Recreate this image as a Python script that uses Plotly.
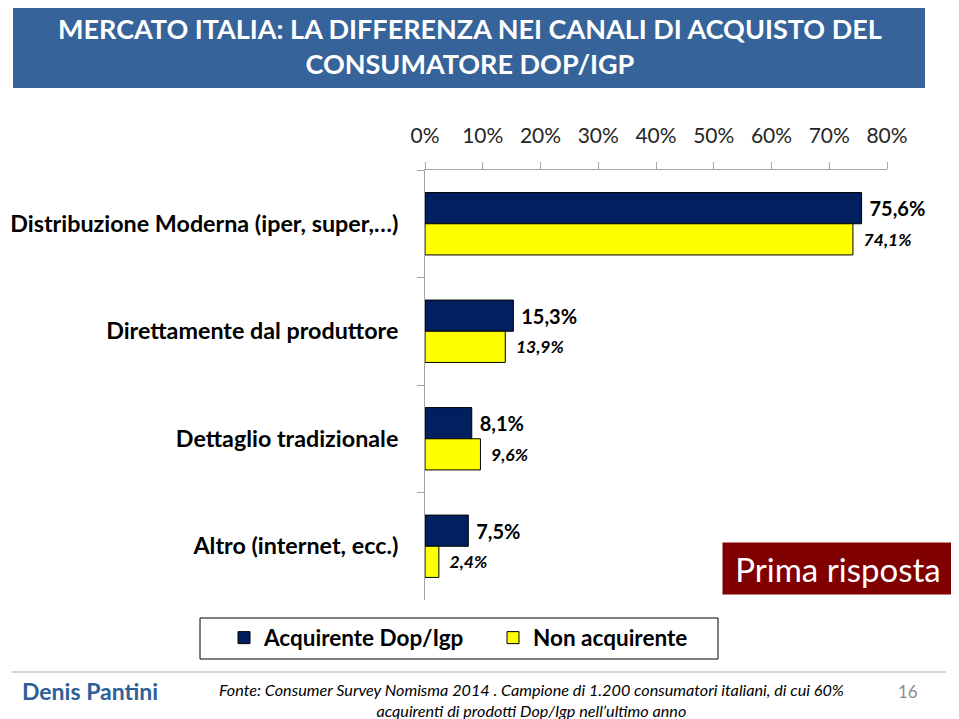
import plotly.graph_objects as go

# The page has an 8 px body margin, so the figure is drawn 8 px in from the window corner.
OFF = 8
W, H = 959 - OFF, 719 - OFF

categories = ["Distribuzione Moderna (iper, super,…)", "Direttamente dal produttore",
              "Dettaglio tradizionale", "Altro (internet, ecc.)"]
series_names = ["Acquirente Dop/Igp", "Non acquirente"]
acquirente = [75.6, 15.3, 8.1, 7.5]
non_acquirente = [74.1, 13.9, 9.6, 2.4]
tick_vals = [0, 10, 20, 30, 40, 50, 60, 70, 80]
tick_text = [f"{v}%" for v in tick_vals]

title_lines = ["MERCATO ITALIA: LA DIFFERENZA NEI CANALI DI ACQUISTO DEL", "CONSUMATORE DOP/IGP"]
badge_text = "Prima risposta"
author = "Denis Pantini"
source_lines = ["Fonte: Consumer Survey Nomisma 2014 . Campione di 1.200 consumatori italiani, di cui 60%",
                "acquirenti di prodotti Dop/Igp nell’ultimo anno"]
page_no = "16"

FONT = "Lato"
NAVY = "#002060"
YELLOW = "#FFFF00"


def px(x):
    return (x - OFF) / W


def py(y):
    return 1 - (y - OFF) / H


fig = go.Figure()
fig.add_trace(go.Bar(
    y=categories, x=acquirente, name=series_names[0], orientation="h",
    marker=dict(color=NAVY, line=dict(color="#000000", width=1)),
    texttemplate="\u00a0%{x:.1f}%", textposition="outside", cliponaxis=False,
    constraintext="none",
    textfont=dict(family=FONT, size=20, color="#000000", weight="bold"),
))
fig.add_trace(go.Bar(
    y=categories, x=non_acquirente, name=series_names[1], orientation="h",
    marker=dict(color=YELLOW, line=dict(color="#000000", width=1)),
    texttemplate="\u00a0\u00a0%{x:.1f}%", textposition="outside", cliponaxis=False,
    constraintext="none",
    textfont=dict(family=FONT, size=17.5, color="#000000", weight="bold", style="italic"),
))

fig.update_layout(
    width=W, height=H,
    margin=dict(l=0, r=0, t=0, b=0, autoexpand=False),
    paper_bgcolor="white", plot_bgcolor="white",
    separators=",.",
    barmode="group", bargap=0.42, bargroupgap=0,
    font=dict(family=FONT, color="#000000"),
    xaxis=dict(
        domain=[px(425), px(887)], range=[0, 80], side="top", automargin=False,
        tickvals=tick_vals, ticktext=tick_text,
        showgrid=False, zeroline=False,
        showline=True, linecolor="#A6A6A6", linewidth=1,
        ticks="outside", ticklen=7, tickcolor="#A6A6A6",
        tickfont=dict(family=FONT, size=21, color="#262626"),
        ticklabelstandoff=11,
    ),
    yaxis=dict(
        domain=[py(600), py(170)], autorange="reversed", automargin=False,
        showgrid=False, zeroline=False,
        showline=True, linecolor="#A6A6A6", linewidth=1,
        ticks="outside", ticklen=7, tickcolor="#A6A6A6", tickson="boundaries",
        tickfont=dict(family=FONT, size=23.3, color="#000000", weight="bold"),
        ticklabelstandoff=21,
    ),
    legend=dict(
        orientation="h", x=px(224), xanchor="left", y=py(638), yanchor="middle",
        borderwidth=0, bgcolor="rgba(0,0,0,0)",
        font=dict(family=FONT, size=22.5, color="#000000", weight="bold"),
        traceorder="normal", itemwidth=30, entrywidth=224,
    ),
    showlegend=True,
)

shapes = [
    dict(type="rect", xref="paper", yref="paper", x0=px(13), x1=px(925), y0=py(88), y1=py(5),
         fillcolor="#366399", line=dict(width=0), layer="below"),
    dict(type="line", xref="paper", yref="paper", x0=px(12), x1=px(946), y0=py(672), y1=py(672),
         line=dict(color="#C8C8C8", width=1.5)),
    dict(type="rect", xref="paper", yref="paper", x0=px(200), x1=px(718), y0=py(659), y1=py(618),
         fillcolor="rgba(0,0,0,0)", line=dict(color="#000000", width=1), layer="below"),
]
fig.update_layout(shapes=shapes)

anns = [
    dict(text="<br>".join(title_lines), x=px(470), y=py(46), xref="paper", yref="paper",
         showarrow=False, xanchor="center", yanchor="middle",
         font=dict(family=FONT, size=27, color="white", weight="bold")),
    dict(text=badge_text, x=px(838), y=py(568), xref="paper", yref="paper",
         showarrow=False, xanchor="center", yanchor="middle",
         width=224, height=45, bgcolor="#800000", borderpad=3,
         font=dict(family=FONT, size=33, color="white")),
    dict(text="<b>" + author + "</b>", x=px(20), y=py(691), xref="paper", yref="paper",
         showarrow=False, xanchor="left", yanchor="middle",
         font=dict(family=FONT, size=23, color="#2F5F98")),
    dict(text="<br>".join(source_lines), x=px(531), y=py(700), xref="paper", yref="paper",
         showarrow=False, xanchor="center", yanchor="middle",
         font=dict(family=FONT, size=16.2, color="#000000", style="italic")),
    dict(text=page_no, x=px(908), y=py(691), xref="paper", yref="paper",
         showarrow=False, xanchor="center", yanchor="middle",
         font=dict(family=FONT, size=17, color="#8C8C8C")),
]
fig.update_layout(annotations=anns)

fig.write_html("out.html")
